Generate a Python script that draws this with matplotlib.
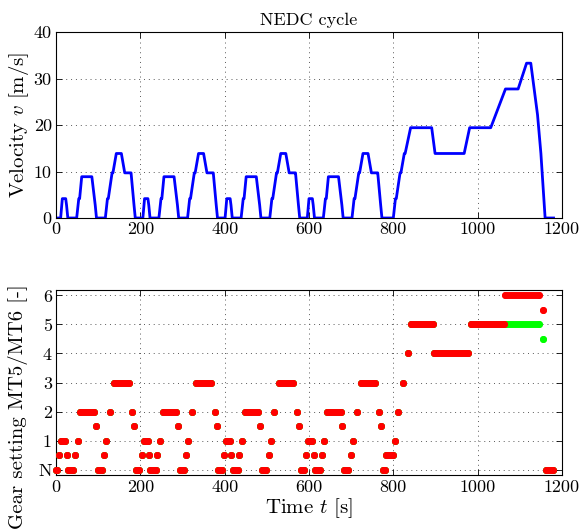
#!/usr/bin/env python3
# -*- coding: utf-8 -*-
"""
NEDC cycle: velocity profile and gear settings (MT5 / MT6)
"""

import numpy as np
import matplotlib
matplotlib.use('Agg')
import matplotlib.pyplot as plt

plt.rcParams['font.family'] = 'serif'
plt.rcParams['font.serif'] = ['cmr10']
plt.rcParams['mathtext.fontset'] = 'cm'
plt.rcParams['axes.unicode_minus'] = False

# ECE-15 urban cycle (time in s, speed in m/s)
ece_t = [0, 11, 15, 23, 25, 28, 49, 54, 56, 61, 85, 93, 96, 117, 122, 124,
         133, 135, 143, 155, 163, 176, 178, 185, 188, 195]
ece_v = [0, 0, 4.17, 4.17, 2.78, 0, 0, 4.17, 4.17, 8.89, 8.89, 2.78, 0, 0,
         4.17, 4.17, 9.72, 9.72, 13.89, 13.89, 9.72, 9.72, 9.72, 2.78, 0, 0]
ece_repeats = 4
ece_length = 195

# EUDC extra-urban part, starts at 780 s
eudc_start = 780
eudc_t = [0, 20, 25, 27, 36, 38, 46, 48, 61, 111, 119, 188, 201, 251, 286,
          316, 336, 346, 362, 370, 380, 400]
eudc_v = [0, 0, 4.17, 4.17, 9.72, 9.72, 13.89, 13.89, 19.44, 19.44, 13.89,
          13.89, 19.44, 19.44, 27.78, 27.78, 33.33, 33.33, 22.22, 13.89, 0, 0]

# gear segments (start, end, gear); N = 0, half steps = clutch disengaged
ece_gear_start = [0, 8, 13, 26, 29, 45, 51, 58, 94, 99, 114, 119, 128, 138,
                  181, 186, 190]
ece_gear_end = [3, 8, 22, 26, 41, 45, 51, 90, 94, 108, 114, 119, 128, 172,
                181, 186, 195]
ece_gear = [0, 0.5, 1, 0.5, 0, 0.5, 1, 2, 1.5, 0, 0.5, 1, 2, 3, 2, 1.5, 0]

eudc_gear_start = [3, 24, 31, 42, 55, 63, 117, 204, 286, 382]
eudc_gear_end = [20, 24, 31, 42, 55, 113, 198, 283, 366, 398]
mt6_gear = [0.5, 1, 2, 3, 4, 5, 4, 5, 6, 0]
mt5_gear = [0.5, 1, 2, 3, 4, 5, 4, 5, 5, 0]
# last clutch-disengaged stop before idling
clutch_t = 376
mt6_clutch = 5.5
mt5_clutch = 4.5

yticks = [0, 1, 2, 3, 4, 5, 6]
ytick_labels = ['N', '1', '2', '3', '4', '5', '6']

# build the full time axis from the cycle pieces
vel_t = []
vel_v = []
for k in range(ece_repeats):
    vel_t += [t + k * ece_length for t in ece_t]
    vel_v += ece_v
vel_t += [t + eudc_start for t in eudc_t]
vel_v += eudc_v

fig = plt.figure(figsize=(5.84, 5.29), dpi=100)
ax1 = fig.add_axes([0.0959, 0.5879, 0.8664, 0.3512])
ax2 = fig.add_axes([0.0959, 0.1013, 0.8664, 0.3512])

grid_kw = dict(color='0.35', linestyle=(0, (1, 4)), linewidth=0.7)

# velocity
ax1.plot(vel_t, vel_v, color='#0000ff', linewidth=2)
ax1.set_xlim(0, 1200)
ax1.set_ylim(0, 40)
ax1.set_xticks(np.arange(0, 1201, 200))
ax1.set_yticks([0, 10, 20, 30, 40])
ax1.set_title('NEDC cycle', fontsize=13, pad=5)
ax1.set_ylabel('Velocity $v$ [m/s]', fontsize=15)
ax1.yaxis.set_label_coords(-0.05, 0.5)
ax1.grid(True, **grid_kw)


def draw_gear(ax, start, end, gear, color):
    ax.plot([start, end], [gear, gear], color=color, linewidth=5,
            solid_capstyle='round', marker='o', markersize=5,
            markeredgewidth=0, clip_on=False, zorder=3)


for colour, eudc_gears, clutch in [('#00ff00', mt5_gear, mt5_clutch),
                                   ('#ff0000', mt6_gear, mt6_clutch)]:
    for k in range(ece_repeats):
        off = k * ece_length
        for s, e, g in zip(ece_gear_start, ece_gear_end, ece_gear):
            draw_gear(ax2, s + off, e + off, g, colour)
    for s, e, g in zip(eudc_gear_start, eudc_gear_end, eudc_gears):
        draw_gear(ax2, s + eudc_start, e + eudc_start, g, colour)
    draw_gear(ax2, clutch_t + eudc_start, clutch_t + eudc_start, clutch, colour)

ax2.set_xlim(0, 1200)
ax2.set_ylim(-0.2, 6.2)
ax2.set_xticks(np.arange(0, 1201, 200))
ax2.set_yticks(yticks)
ax2.set_yticklabels(ytick_labels)
ax2.set_xlabel('Time $t$ [s]', fontsize=15, labelpad=1)
ax2.set_ylabel('Gear setting MT5/MT6 [-]', fontsize=15)
ax2.yaxis.set_label_coords(-0.055, 0.37)
ax2.grid(True, **grid_kw)

for ax in (ax1, ax2):
    ax.tick_params(direction='in', length=4, width=0.6, top=True, right=True,
                   labelsize=13, pad=3)
    for sp in ax.spines.values():
        sp.set_linewidth(0.8)
    ax.set_axisbelow(True)

fig.savefig('out.png', dpi=100)
